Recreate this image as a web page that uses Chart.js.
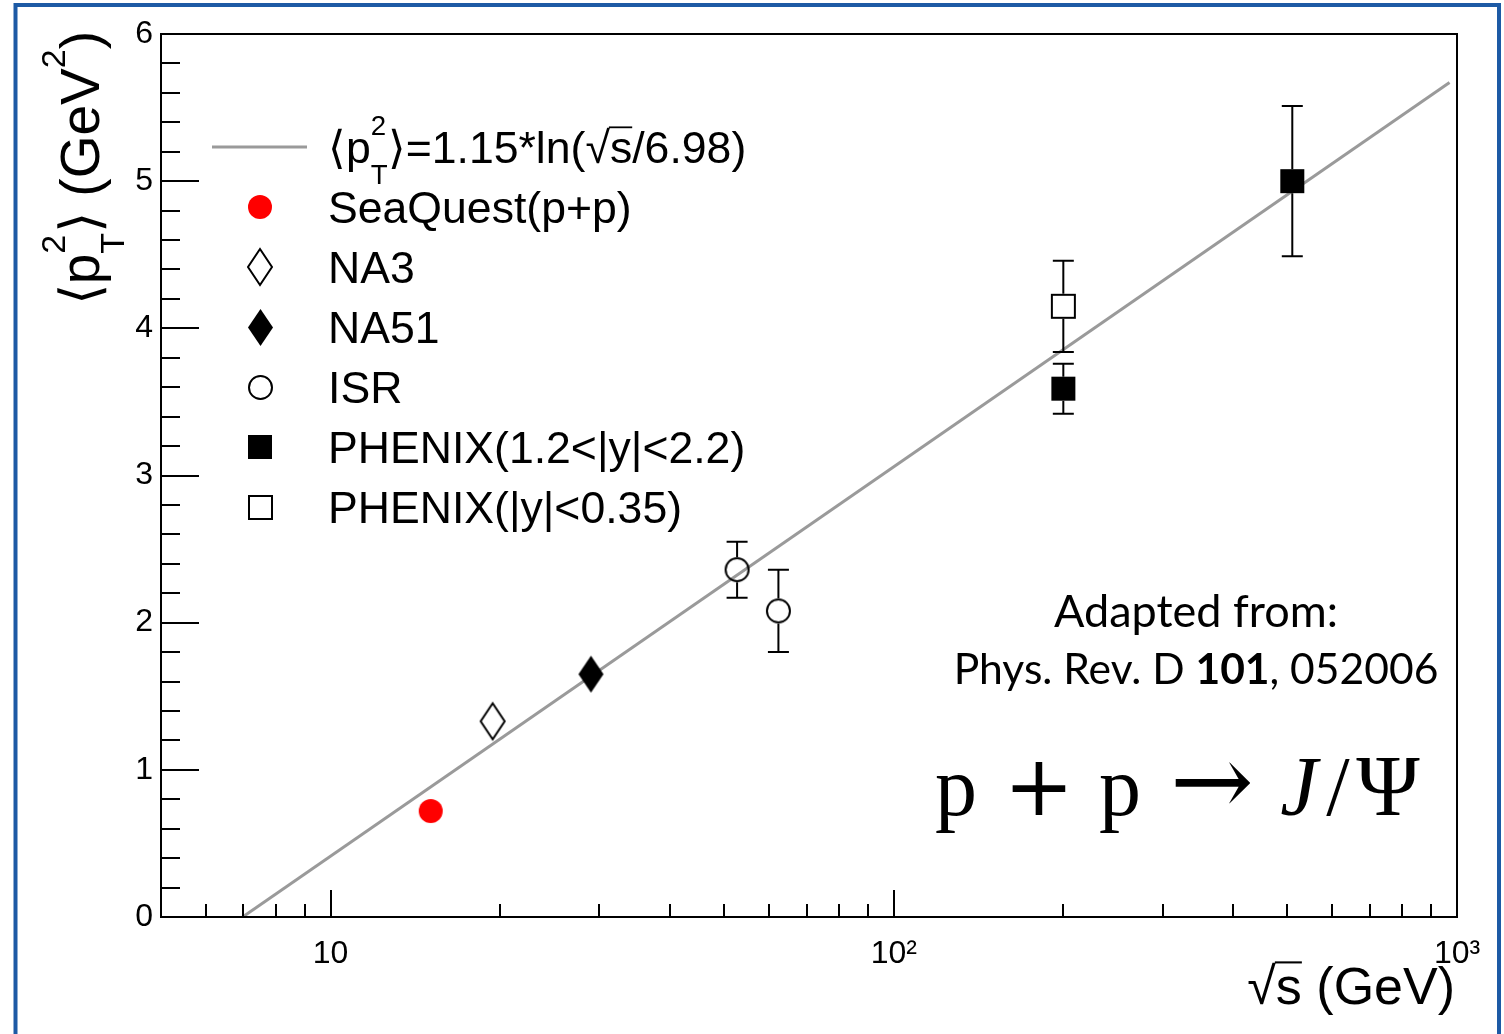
<!DOCTYPE html>
<html>
<head>
<meta charset="utf-8">
<script src="https://cdn.jsdelivr.net/npm/chart.js@4/dist/chart.umd.min.js"></script>
<style>
  html, body { margin: 0; padding: 0; background: #ffffff; }
  #wrap { width: 1504px; height: 1034px; position: relative; }
</style>
</head>
<body>
<div id="wrap"><canvas id="c" width="1504" height="1034"></canvas></div>
<script>
// ---- data: sqrt(s) [GeV] and <pT^2> [GeV^2] ----
const seaquestX = [15.06];
const seaquestY = [0.72];
const na3X = [19.4];
const na3Y = [1.33];
const na51X = [29.0];
const na51Y = [1.65];
const isrX = [52.7, 62.4];
const isrY = [2.36, 2.08];
const isrErr = [0.19, 0.28];
const phenixFwdX = [200, 510];
const phenixFwdY = [3.59, 5.00];
const phenixFwdErr = [0.17, 0.51];
const phenixMidX = [200];
const phenixMidY = [4.15];
const phenixMidErr = [0.31];
// fit curve <pT^2> = 1.15*ln(sqrt(s)/6.98): a straight line on the log axis
const fitX = [6.98, 970];
const fitY = [0.0, 5.67];

// ---- axis ticks ----
const xMajorTicks = [10, 100, 1000];
const xMajorLabels = ['10', '10\u00B2', '10\u00B3'];
const xMinorTicks = [6, 7, 8, 9, 20, 30, 40, 50, 60, 70, 80, 90, 200, 300, 400, 500, 600, 700, 800, 900];
const yMajorTicks = [0, 1, 2, 3, 4, 5, 6];
const yMinorTicks = [0.2, 0.4, 0.6, 0.8, 1.2, 1.4, 1.6, 1.8, 2.2, 2.4, 2.6, 2.8,
                     3.2, 3.4, 3.6, 3.8, 4.2, 4.4, 4.6, 4.8, 5.2, 5.4, 5.6, 5.8];

const SANS = "'Liberation Sans', Arial, Helvetica, sans-serif";
const SERIF = "'Liberation Serif', 'Times New Roman', serif";
const CITE = "Lato, 'Open Sans', sans-serif";

// marker sprites (ROOT-like styles)
function markerSprite(shape, filled, w, h, color) {
  const c = document.createElement('canvas');
  c.width = w + 4; c.height = h + 4;
  const g = c.getContext('2d');
  g.translate(c.width / 2, c.height / 2);
  const inset = filled ? 0 : 1;
  const a = w / 2 - inset, b = h / 2 - inset;
  g.beginPath();
  if (shape === 'circle') {
    g.arc(0, 0, a, 0, Math.PI * 2);
  } else if (shape === 'diamond') {
    g.moveTo(0, -b); g.lineTo(a, 0); g.lineTo(0, b); g.lineTo(-a, 0); g.closePath();
  } else {
    g.rect(-a, -b, 2 * a, 2 * b);
  }
  if (filled) { g.fillStyle = color; g.fill(); }
  else { g.lineWidth = 2; g.strokeStyle = color; g.stroke(); }
  return c;
}

const mkRedDot = markerSprite('circle', true, 24, 24, '#ff0000');
const mkOpenDiamond = markerSprite('diamond', false, 26, 38, '#000');
const mkFullDiamond = markerSprite('diamond', true, 25, 37, '#000');
const mkOpenCircle = markerSprite('circle', false, 25, 25, '#000');
const mkFullSquare = markerSprite('square', true, 24, 24, '#000');
const mkOpenSquare = markerSprite('square', false, 25, 25, '#000');

function pts(xs, ys) { return xs.map((x, i) => ({ x: x, y: ys[i] })); }

function pointSet(label, xs, ys, sprite, errs, half) {
  return {
    type: 'scatter',
    label: label,
    data: pts(xs, ys),
    pointStyle: sprite,
    pointRadius: 12,
    pointHoverRadius: 12,
    showLine: false,
    errY: errs || null,
    markerHalf: half,
    order: 0
  };
}

const datasets = [
  {
    type: 'line',
    label: '\u27E8p_T^2\u27E9=1.15*ln(\u221As/6.98)',
    data: pts(fitX, fitY),
    borderColor: '#9a9a9a',
    borderWidth: 3,
    pointRadius: 0,
    fill: false,
    tension: 0,
    order: 5
  },
  pointSet('SeaQuest(p+p)', seaquestX, seaquestY, mkRedDot, null, 12),
  pointSet('NA3', na3X, na3Y, mkOpenDiamond, null, 19),
  pointSet('NA51', na51X, na51Y, mkFullDiamond, null, 18),
  pointSet('ISR', isrX, isrY, mkOpenCircle, isrErr, 12.5),
  pointSet('PHENIX(1.2<|y|<2.2)', phenixFwdX, phenixFwdY, mkFullSquare, phenixFwdErr, 12),
  pointSet('PHENIX(|y|<0.35)', phenixMidX, phenixMidY, mkOpenSquare, phenixMidErr, 12.5)
];

// rich text: parts of {t, sup, sub, over, bold}
function richText(ctx, parts, x, y, fs, family, draw) {
  let cx = x;
  for (const p of parts) {
    if (p.t) {
      ctx.font = (p.bold ? 'bold ' : '') + fs + 'px ' + family;
      const w = ctx.measureText(p.t).width;
      if (draw) {
        ctx.fillText(p.t, cx, y);
        if (p.over) {
          ctx.save();
          ctx.lineWidth = Math.max(1.5, fs * 0.04);
          ctx.beginPath();
          ctx.moveTo(cx - 1, y - fs * 0.80);
          ctx.lineTo(cx + w, y - fs * 0.80);
          ctx.stroke();
          ctx.restore();
        }
      }
      cx += w;
    }
    if (p.sup || p.sub) {
      const sfs = fs * 0.62;
      ctx.font = sfs + 'px ' + family;
      let w1 = 0, w2 = 0;
      if (p.sup) { w1 = ctx.measureText(p.sup).width; if (draw) ctx.fillText(p.sup, cx, y - fs * 0.62); }
      if (p.sub) { w2 = ctx.measureText(p.sub).width; if (draw) ctx.fillText(p.sub, cx, y + fs * 0.46); }
      cx += Math.max(w1, w2);
    }
  }
  return cx - x;
}

const fitLegendParts = [
  { t: '\u27E8p', sup: '2', sub: 'T' },
  { t: '\u27E9=1.15*ln(\u221A' },
  { t: 's', over: true },
  { t: '/6.98)' }
];
const yTitleParts = [
  { t: '\u27E8p', sup: '2', sub: 'T' },
  { t: '\u27E9 (GeV', sup: '2' },
  { t: ')' }
];
const xTitleParts = [
  { t: '\u221A' },
  { t: 's', over: true },
  { t: ' (GeV)' }
];
const citeLine1 = [{ t: 'Adapted from:' }];
const citeLine2 = [{ t: 'Phys. Rev. D ' }, { t: '101', bold: true }, { t: ', 052006' }];

// frame, inward ticks, error bars, legend and labels
const framePlugin = {
  id: 'rootFrame',
  afterDatasetsDraw(chart) {
    const ctx = chart.ctx;
    const a = chart.chartArea;
    const xs = chart.scales.x, ys = chart.scales.y;
    ctx.save();
    ctx.strokeStyle = '#000';
    ctx.lineWidth = 2;

    // error bars
    chart.data.datasets.forEach((ds) => {
      if (!ds.errY) return;
      ds.data.forEach((p, i) => {
        const px = xs.getPixelForValue(p.x);
        const py = ys.getPixelForValue(p.y);
        const top = ys.getPixelForValue(p.y + ds.errY[i]);
        const bot = ys.getPixelForValue(p.y - ds.errY[i]);
        const h = ds.markerHalf;
        ctx.beginPath();
        ctx.moveTo(px, top); ctx.lineTo(px, py - h);
        ctx.moveTo(px, py + h); ctx.lineTo(px, bot);
        ctx.moveTo(px - 10.5, top); ctx.lineTo(px + 10.5, top);
        ctx.moveTo(px - 10.5, bot); ctx.lineTo(px + 10.5, bot);
        ctx.stroke();
      });
    });

    // frame
    ctx.strokeRect(a.left, a.top, a.right - a.left, a.bottom - a.top);

    // x ticks (pointing up into the plot)
    ctx.beginPath();
    xs.ticks.forEach(t => {
      const px = Math.round(xs.getPixelForValue(t.value));
      const len = xMajorTicks.includes(t.value) ? 27 : 13;
      ctx.moveTo(px, a.bottom); ctx.lineTo(px, a.bottom - len);
    });
    // y ticks (pointing right into the plot)
    ys.ticks.forEach(t => {
      const py = Math.round(ys.getPixelForValue(t.value));
      const len = yMajorTicks.includes(t.value) ? 38 : 19;
      ctx.moveTo(a.left, py); ctx.lineTo(a.left + len, py);
    });
    ctx.stroke();
    ctx.restore();
  },
  afterDraw(chart) {
    const ctx = chart.ctx;
    ctx.save();
    ctx.fillStyle = '#000';
    ctx.strokeStyle = '#000';
    ctx.textAlign = 'left';
    ctx.textBaseline = 'alphabetic';

    // legend
    const rowY0 = 147, rowStep = 60, mx = 260, tx = 328, lfs = 44.6;
    chart.data.datasets.forEach((ds, i) => {
      const ry = rowY0 + i * rowStep;
      if (ds.type === 'line') {
        ctx.save();
        ctx.strokeStyle = ds.borderColor;
        ctx.lineWidth = ds.borderWidth;
        ctx.beginPath(); ctx.moveTo(212, ry); ctx.lineTo(307, ry); ctx.stroke();
        ctx.restore();
        richText(ctx, fitLegendParts, tx, ry + 16, lfs, SANS, true);
      } else {
        const s = ds.pointStyle;
        ctx.drawImage(s, Math.round(mx - s.width / 2), Math.round(ry - s.height / 2));
        ctx.font = lfs + 'px ' + SANS;
        ctx.fillText(ds.label, tx, ry + 16);
      }
    });

    // y title, rotated, aligned to the top of the axis
    const yfs = 55;
    const yw = richText(ctx, yTitleParts, 0, 0, yfs, SANS, false);
    ctx.save();
    ctx.translate(99, 31 + yw);
    ctx.rotate(-Math.PI / 2);
    richText(ctx, yTitleParts, 0, 0, yfs, SANS, true);
    ctx.restore();

    // x title, right aligned at the axis end
    const xfs = 52;
    const xw = richText(ctx, xTitleParts, 0, 0, xfs, SANS, false);
    richText(ctx, xTitleParts, 1455 - xw, 1004, xfs, SANS, true);

    // citation
    const c1 = richText(ctx, citeLine1, 0, 0, 45, CITE, false);
    richText(ctx, citeLine1, 1196 - c1 / 2, 627, 45, CITE, true);
    const c2 = richText(ctx, citeLine2, 0, 0, 42.6, CITE, false);
    richText(ctx, citeLine2, 1196 - c2 / 2, 684, 42.6, CITE, true);

    // reaction
    ctx.textAlign = 'center';
    const rb = 815;
    const pieces = [
      ['p', 956, '84px ' + SERIF],
      ['+', 1039, '84px ' + "'DejaVu Serif', serif"],
      ['p', 1120, '84px ' + SERIF],
      ['\u2192', 1212, '100px ' + "'DejaVu Serif', serif"],
      ['J', 1299, 'italic 84px ' + SERIF],
      ['/', 1338, '84px ' + SERIF],
      ['\u03A8', 1388, '86px ' + SERIF]
    ];
    pieces.forEach(p => { ctx.font = p[2]; ctx.fillText(p[0], p[1], rb); });

    // outer slide border
    ctx.strokeStyle = '#1d5aa5';
    ctx.lineWidth = 4;
    ctx.strokeRect(15.5, 5, 1483.5, 1060);
    ctx.restore();
  }
};

new Chart(document.getElementById('c'), {
  type: 'scatter',
  data: { datasets: datasets },
  plugins: [framePlugin],
  options: {
    responsive: false,
    animation: false,
    events: [],
    layout: { padding: { left: 0, top: 34, right: 47, bottom: 0 } },
    plugins: { legend: { display: false }, tooltip: { enabled: false } },
    scales: {
      x: {
        type: 'logarithmic',
        min: 5,
        max: 1000,
        grid: { display: false },
        border: { display: false },
        afterBuildTicks: (s) => {
          s.ticks = xMajorTicks.concat(xMinorTicks).sort((a, b) => a - b).map(v => ({ value: v }));
        },
        afterFit: (s) => { s.height = 117; },
        ticks: {
          autoSkip: false,
          maxRotation: 0,
          minRotation: 0,
          padding: 10,
          color: '#000',
          font: { family: SANS, size: 32 },
          callback: (v) => {
            const i = xMajorTicks.indexOf(v);
            return i >= 0 ? xMajorLabels[i] : '';
          }
        }
      },
      y: {
        min: 0,
        max: 6,
        grid: { display: false },
        border: { display: false },
        afterBuildTicks: (s) => {
          s.ticks = yMajorTicks.concat(yMinorTicks).sort((a, b) => a - b).map(v => ({ value: v }));
        },
        afterFit: (s) => { s.width = 161; },
        ticks: {
          autoSkip: false,
          padding: 0,
          color: '#000',
          font: { family: SANS, size: 32 },
          callback: (v) => (yMajorTicks.includes(v) ? String(v) : '')
        }
      }
    }
  }
});
</script>
</body>
</html>
